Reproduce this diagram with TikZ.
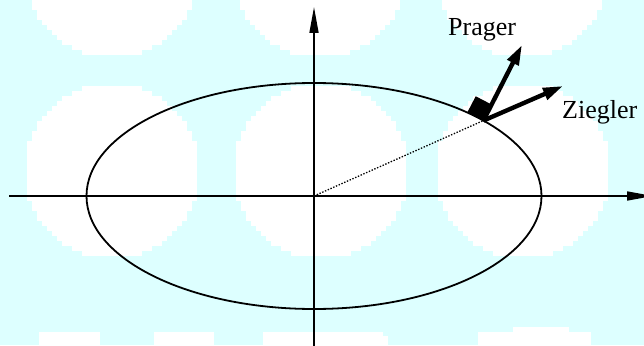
\documentclass[tikz,border=0pt]{standalone}
\usepackage{fontspec}
\setmainfont{Liberation Serif}
\usetikzlibrary{arrows.meta,calc,shapes.geometric}
\definecolor{bgcyan}{RGB}{221,255,255}
\newcommand\pixblob[2]{%
  \foreach \i in {-17,...,16} {%
    \pgfmathsetmacro\yy{5*\i+2.5}%
    \pgfmathsetmacro\hw{5*round(sqrt(87*87-\yy*\yy)/5)}%
    \fill[blob] ({#1-\hw},{#2+5*\i}) rectangle ({#1+\hw},{#2+5*\i+5.4});
  }}
\begin{document}
\begin{tikzpicture}[x=1pt,y=-1pt,
  blob/.style={fill=white},
  axis/.style={line width=1.6pt,-{Triangle[length=26pt,width=9pt]}},
  vec/.style={line width=4.4pt,-{Triangle[length=20pt,width=12pt]}},
  lbl/.style={font=\fontsize{26}{30}\selectfont, inner sep=0pt, anchor=base west}]
\useasboundingbox (0,0) rectangle (644,345);
\clip (0,0) rectangle (644,345);
\fill[bgcyan] (0,0) rectangle (644,345);
% background blobs
\pixblob{112}{-30}
\pixblob{320}{-30}
\pixblob{522}{-30}
\pixblob{112}{171}
\pixblob{321}{171}
\pixblob{523}{171}
\fill[blob] (39,332) rectangle (100,346);
\fill[blob] (154,332) rectangle (214,346);
\fill[blob] (263,332) rectangle (383,346);
\fill[blob] (383,336) rectangle (388,346);
\fill[blob] (478,332) rectangle (591,346);
\fill[blob] (513,327) rectangle (569,333);
% coordinates
\coordinate (xl) at (9,196);
\coordinate (xr) at (653,196);
\coordinate (yb) at (314,346);
\coordinate (yt) at (314,7);
% ellipse
\node[draw, ellipse, line width=1.8pt, minimum width=455pt, minimum height=226pt,
      inner sep=0pt, outer sep=0pt] (E) at (314,196) {};
\coordinate (P) at (E.24.2);
% axes
\draw[axis] (xl) -- (xr);
\draw[axis] (yb) -- (yt);
% dotted radius
\draw[line width=1.3pt, dash pattern=on 1.4pt off 1.6pt] (E.center) -- (P);
% right-angle marker
\fill (P) -- ++(-16,-8.3) -- ++(8.3,-16) -- ++(16,8.3) -- cycle;
% vectors
\coordinate (pt) at (522,45);
\coordinate (zt) at (563,86);
\draw[vec] (P) -- (pt);
\draw[vec] (P) -- (zt);
% labels
\node[lbl] (prager) at (448,36) {Prager};
\node[lbl] (ziegler) at (562,118) {Ziegler};
\end{tikzpicture}
\end{document}
